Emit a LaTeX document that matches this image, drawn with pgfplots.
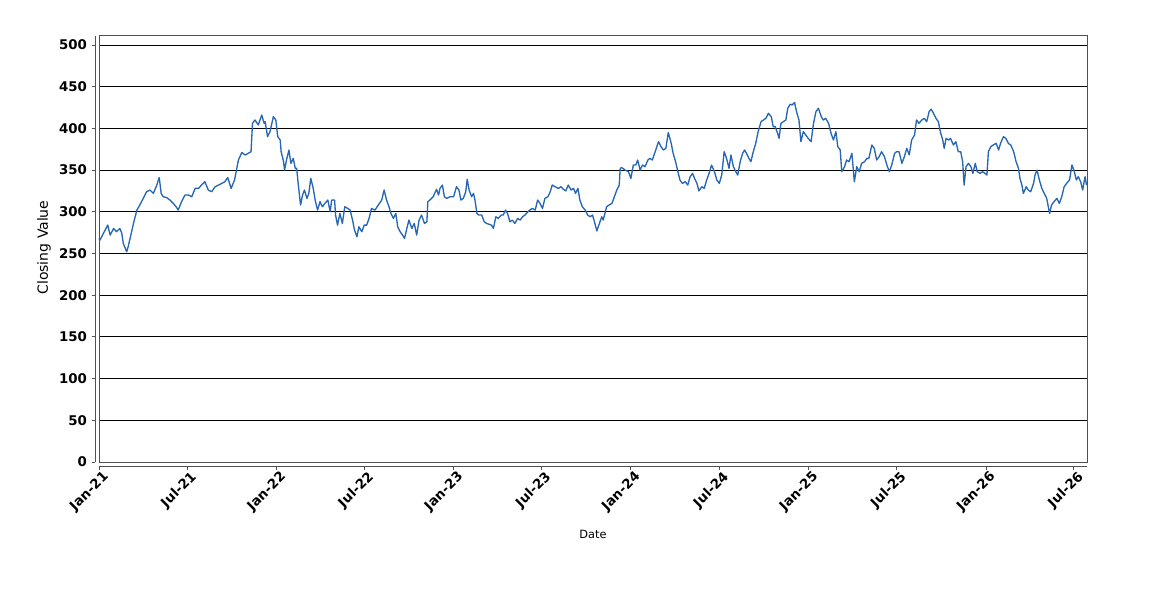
\documentclass[border=0pt]{standalone}
\usepackage{fontspec}
\setmainfont{DejaVu Sans}
\usepackage{pgfplots}
\pgfplotsset{compat=1.18}
\definecolor{series}{RGB}{38,102,178}
\definecolor{frame}{RGB}{80,80,80}
\begin{document}
\begin{tikzpicture}
\path[use as bounding box] (-74.25pt,-103.5pt) rectangle (788.25pt,346.5pt);
\begin{axis}[
  at={(0,0)}, anchor=south west,
  scale only axis, width=741pt, height=319.7pt,
  xmin=0, xmax=2034, ymin=0, ymax=511,
  xtick={0,181,365,546,730,911,1095,1277,1461,1642,1826,2007},
  xticklabels={Jan-21,Jul-21,Jan-22,Jul-22,Jan-23,Jul-23,Jan-24,Jul-24,Jan-25,Jul-25,Jan-26,Jul-26},
  ytick={0,50,...,500},
  ymajorgrids, grid style={black, line width=0.6pt},
  axis line style={draw=frame, line width=0.7pt},
  tick pos=left, tick align=outside, major tick length=2.5pt,
  xtick style={draw=frame, line width=0.6pt, yshift=-3.4pt},
  ytick style={draw=frame, line width=0.6pt, xshift=-3pt},
  /pgf/number format/assume math mode=true,
  yticklabel style={font=\fontsize{10}{12}\selectfont\bfseries, xshift=-3pt},
  xticklabel style={font=\fontsize{10}{12}\selectfont\bfseries, rotate=45, anchor=north east, yshift=-3pt, inner sep=1pt},
  ylabel={Closing Value}, xlabel={Date},
  ylabel style={font=\fontsize{10.5}{12}\selectfont, at={(axis description cs:-0.0557,0.503)}, anchor=center},
  xlabel style={font=\fontsize{8.5}{10}\selectfont, at={(axis description cs:0.5,-0.1705)}, anchor=center},
  clip=false,
]
\draw[frame, line width=0.6pt] ([xshift=-3pt]rel axis cs:0,0) -- ([xshift=-3pt]rel axis cs:0,1);
\draw[frame, line width=0.6pt] ([yshift=-3.4pt]rel axis cs:0,0) -- ([yshift=-3.4pt]rel axis cs:1,0);
\addplot[series, line width=1pt, line join=round] table {
0 268
2 266
9 274
18 284
23 272
30 280
36 276
43 280
47 274
50 262
57 252
60 258
64 268
71 286
78 302
84 308
91 316
98 324
105 326
112 322
119 332
124 341
128 322
132 318
139 317
146 314
153 310
160 305
163 302
170 312
177 320
184 320
191 318
198 328
205 328
211 332
218 336
225 326
232 324
239 330
246 332
253 334
259 336
265 341
272 328
279 338
283 350
287 362
294 371
301 368
307 370
313 372
316 406
321 410
328 404
335 416
340 406
342 408
347 390
352 396
359 414
364 410
368 390
373 386
375 372
380 360
382 350
386 362
391 374
395 358
400 364
404 352
407 352
410 334
415 308
419 320
423 326
428 316
432 322
436 340
441 328
445 314
450 302
455 312
460 306
465 310
471 314
476 300
479 314
485 314
487 296
491 284
496 298
501 286
506 306
512 304
517 302
522 290
526 278
531 270
535 282
541 276
546 284
551 284
556 292
561 304
568 302
575 308
582 314
587 326
592 314
597 306
601 298
606 292
611 298
615 282
620 276
625 272
629 268
633 278
638 290
644 280
649 286
654 272
659 290
664 296
670 286
675 288
677 312
681 314
688 318
695 327
699 320
702 328
707 332
711 318
716 316
723 318
730 318
736 330
741 326
745 314
750 316
755 324
758 339
762 326
767 318
771 322
774 314
778 298
782 296
788 296
793 288
798 286
803 285
808 284
812 280
817 294
822 292
828 296
832 296
837 302
841 298
846 288
851 290
856 286
862 292
867 290
872 294
877 296
883 300
887 302
892 304
898 302
903 314
908 310
913 304
918 316
924 318
929 324
933 332
939 330
946 328
951 330
956 327
961 325
966 332
972 326
977 328
981 322
986 328
990 314
995 306
1001 302
1006 296
1011 294
1016 296
1020 288
1025 277
1029 284
1035 294
1038 290
1045 306
1050 308
1056 310
1061 318
1066 326
1071 332
1073 352
1076 353
1083 350
1090 348
1095 340
1100 356
1105 356
1109 362
1114 350
1119 356
1124 354
1130 362
1134 364
1139 362
1145 372
1152 384
1157 378
1162 374
1167 376
1172 395
1178 382
1182 370
1187 360
1191 350
1196 338
1201 334
1207 336
1212 332
1217 342
1222 346
1226 340
1231 334
1235 325
1241 330
1246 328
1251 338
1256 346
1261 356
1267 348
1272 338
1277 334
1282 344
1287 372
1292 364
1297 352
1301 368
1306 354
1311 348
1315 344
1320 360
1325 370
1329 374
1333 370
1338 364
1342 360
1347 372
1352 382
1357 396
1363 408
1368 410
1373 412
1378 418
1384 414
1388 402
1392 402
1397 394
1400 388
1404 406
1409 408
1414 410
1418 424
1423 429
1427 428
1432 431
1436 420
1441 410
1445 384
1450 396
1455 392
1460 388
1466 384
1471 406
1476 420
1481 424
1487 414
1491 410
1496 412
1502 406
1507 394
1512 386
1517 396
1521 378
1526 374
1529 348
1535 354
1539 362
1544 360
1550 370
1555 336
1560 354
1565 348
1570 358
1576 360
1581 364
1585 364
1591 380
1596 376
1601 362
1606 366
1611 372
1617 366
1622 356
1627 348
1632 356
1638 370
1642 372
1647 372
1653 358
1658 366
1663 376
1668 368
1673 386
1679 392
1683 410
1688 406
1694 410
1699 412
1704 408
1709 420
1713 423
1718 418
1723 412
1728 408
1732 396
1737 386
1740 376
1744 388
1749 386
1753 388
1759 380
1764 384
1769 372
1774 372
1778 360
1781 332
1785 354
1790 358
1795 354
1799 346
1804 358
1808 348
1814 346
1819 348
1824 346
1828 344
1831 372
1836 378
1841 380
1847 382
1852 374
1856 382
1862 390
1867 388
1872 382
1877 380
1883 372
1888 360
1893 352
1896 340
1900 332
1903 322
1909 330
1913 326
1918 324
1924 334
1927 344
1931 350
1936 338
1941 328
1946 322
1951 316
1957 298
1961 308
1966 312
1972 316
1977 310
1982 318
1987 330
1992 334
1998 338
2003 356
2007 350
2012 338
2016 342
2021 336
2025 326
2030 342
2033 332
};
\end{axis}
\end{tikzpicture}
\end{document}
